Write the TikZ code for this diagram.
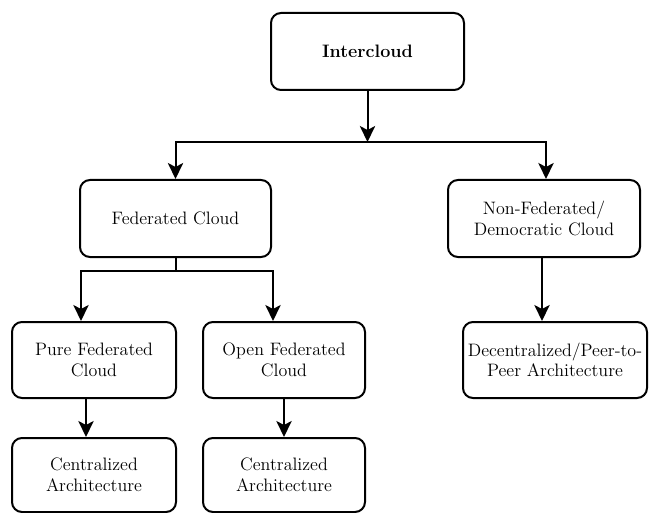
\documentclass[tikz,border=0pt]{standalone}
\usepackage{tikz}
\usetikzlibrary{arrows.meta}

\begin{document}
\begin{tikzpicture}[x=0.75pt, y=-0.75pt,
  box/.style={draw, line width=1.5pt, rounded corners=7.5pt, align=center,
    inner sep=0pt, font=\fontsize{13.5}{15.5}\selectfont},
  arr/.style={line width=1.5pt, line join=miter,
    -{Stealth[length=12pt, width=11.5pt, inset=3pt]}},
  ln/.style={line width=1.5pt}]
  \useasboundingbox (0,0) rectangle (649,513);

  % top level
  \node[box, minimum width=144.75pt, minimum height=57.75pt] (inter) at (367.5,51.5) {\textbf{Intercloud}};

  % second level
  \node[box, minimum width=143.25pt, minimum height=57.75pt] (fed) at (175.5,218.5) {Federated Cloud};
  \node[box, minimum width=144pt, minimum height=57.75pt] (nonfed) at (544,218.5) {Non-Federated/\\Democratic Cloud};

  % third level
  \node[box, minimum width=123pt, minimum height=57pt] (pure) at (94,360) {Pure Federated\\Cloud};
  \node[box, minimum width=121.5pt, minimum height=57pt] (open) at (284,360) {Open Federated\\Cloud};
  \node[box, minimum width=138pt, minimum height=57pt] (decen) at (555,360) {Decentralized/Peer-to-\\Peer Architecture};

  % bottom level
  \node[box, minimum width=123pt, minimum height=55.5pt] (centA) at (94,475) {Centralized\\Architecture};
  \node[box, minimum width=121.5pt, minimum height=55.5pt] (centB) at (284,475) {Centralized\\Architecture};

  % connectors
  \coordinate (split1) at (367.5,142);
  \coordinate (split2) at (175.5,271);
  \draw[arr] (inter) -- (split1);
  \draw[arr] (split1) -| (fed.north);
  \draw[arr] (split1) -| ([xshift=1.5pt]nonfed.north);
  \draw[ln] (fed) -- (split2);
  \draw[arr] (split2) -| ([xshift=-9.75pt]pure.north);
  \draw[arr] (split2) -| ([xshift=-8.25pt]open.north);
  \draw[arr] ([xshift=-6pt]pure.south) -- ([xshift=-6pt]centA.north);
  \draw[arr] (open.south) -- (centB.north);
  \draw[arr] ([xshift=-1.5pt]nonfed.south) -- ([xshift=-1.5pt]nonfed.south |- decen.north);
\end{tikzpicture}
\end{document}
